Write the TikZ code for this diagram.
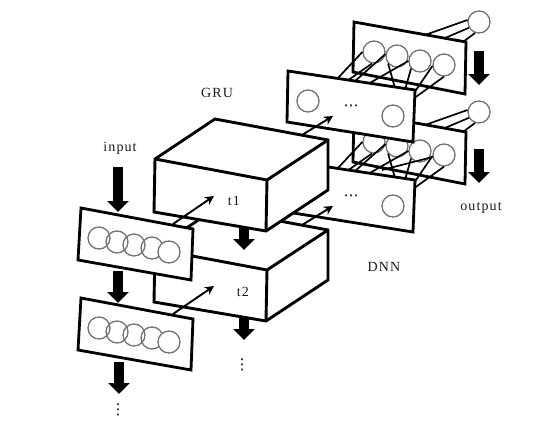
\documentclass[tikz,border=0pt]{standalone}
\usepackage{amsmath}
\usepackage{fontspec}
\setmainfont[LetterSpace=8]{Liberation Serif}
\newfontfamily\symfont{DejaVu Sans}
\usetikzlibrary{arrows.meta}
\tikzset{
    panel/.style={draw, fill=white, line width=2.8pt, line join=miter},
    cubeedge/.style={draw, line width=2.9pt, line join=miter},
    unit/.style={circle, draw=black!55, line width=1.3pt, inner sep=0pt, minimum size=22pt},
    wire/.style={black, line width=1.7pt},
    blockarrow/.style={line width=10pt, -{Triangle[length=11pt,width=21pt]}},
    thinarrow/.style={line width=1.9pt, -{Stealth[length=9pt,width=9pt]}},
    label/.style={font=\fontsize{14}{16}\selectfont, text=black!90},
    dotmark/.style={font=\symfont\fontsize{15}{15}\selectfont, inner sep=0pt}
}
\begin{document}
\begin{tikzpicture}[x=1pt,y=-1pt]
    \useasboundingbox (0,0) rectangle (555,431);

    % DNN layers, lower one first
    \foreach \dy/\n in {90/2,0/1} {
        \begin{scope}[shift={(0,\dy)}]
            \node[unit, fill=white] (out\n) at (479,22) {};
            \coordinate (oa\n) at (425,35);
            \coordinate (ob\n) at (445,38);
            \coordinate (oc\n) at (463,42);
            \draw[wire] (out\n.170) -- (oa\n);
            \draw[wire] (out\n.210) -- (ob\n);
            \draw[wire] (out\n.250) -- (oc\n);

            % back panel
            \path[panel] (354,22) -- (466,42) -- (465,94) -- (353,72) -- cycle;
            \node[unit] (ca\n) at (374,52) {};
            \node[unit] (cb\n) at (397,56) {};
            \node[unit] (cc\n) at (420,61) {};
            \node[unit] (cd\n) at (444,65) {};

            \coordinate (fa\n) at (337,79);
            \coordinate (fb\n) at (347,81);
            \coordinate (fc\n) at (354,82);
            \coordinate (fd\n) at (368,84);
            \coordinate (fe\n) at (395,88);
            \coordinate (ff\n) at (405,90);
            \coordinate (fg\n) at (414,93);
            \coordinate (fh\n) at (413,99);
            \draw[wire] (ca\n.180) -- (fa\n);
            \draw[wire] (ca\n.260) -- (fb\n);
            \draw[wire] (cb\n.170) -- (fc\n);
            \draw[wire] (cc\n.180) -- (fd\n);
            \draw[wire] (cb\n.220) -- (fe\n);
            \draw[wire] (cc\n.220) -- (ff\n);
            \draw[wire] (cd\n.185) -- (fg\n);
            \draw[wire] (cd\n.270) -- (fh\n);

            % front panel
            \path[panel] (288,71) -- (415,90) -- (413,142) -- (287,122) -- cycle;
            \node[unit] (da\n) at (308,101) {};
            \node[unit] (db\n) at (393,116) {};
            \node[dotmark] (dots\n) at (351,108) {⋯};
        \end{scope}
    }
    \coordinate (fi) at (382,170);
    \draw[wire] (cd2.190) -- (fi);

    % output arrows
    \coordinate (rta) at (479,51);
    \coordinate (rtb) at (479,85);
    \coordinate (rtc) at (479,149);
    \coordinate (rtd) at (479,183);
    \draw[blockarrow] (rta) -- (rtb);
    \draw[blockarrow] (rtc) -- (rtd);

    % GRU cells
    \foreach \dy/\n in {90/2,0/1} {
        \begin{scope}[shift={(0,\dy)}]
            \coordinate (ga\n) at (244,228);
            \coordinate (gb\n) at (244,250);
            \path[fill=white] (155,159) -- (215,119) -- (328,140) -- (328,190) -- (266,231) -- (154,212) -- cycle;
            \draw[blockarrow] (ga\n) -- (gb\n);
            \path[cubeedge] (155,159) -- (215,119) -- (328,140) -- (328,190) -- (266,231) -- (154,212) -- cycle;
            \path[cubeedge] (155,159) -- (267,180) -- (328,140);
            \path[cubeedge] (267,180) -- (266,231);
        \end{scope}
    }

    % input panels
    \foreach \dy/\n in {0/1,90/2} {
        \begin{scope}[shift={(0,\dy)}]
            \path[panel] (81,208) -- (193,229) -- (191,280) -- (78,260) -- cycle;
            \node[unit] (ia\n) at (99,238) {};
            \node[unit] (ib\n) at (117,242) {};
            \node[unit] (ic\n) at (134,245) {};
            \node[unit] (id\n) at (152,248) {};
            \node[unit, fill=white] (ie\n) at (169,252) {};
            \coordinate (ta\n) at (173,224);
            \coordinate (tb\n) at (214,196);
            \draw[thinarrow] (ta\n) -- (tb\n);
            \coordinate (ua\n) at (302,135);
            \coordinate (ub\n) at (333,116);
            \draw[thinarrow] (ua\n) -- (ub\n);
        \end{scope}
    }

    % input arrows
    \coordinate (ina) at (118,167);
    \coordinate (inb) at (118,212);
    \coordinate (inc) at (118,271);
    \coordinate (ind) at (118,303);
    \coordinate (ine) at (119,362);
    \coordinate (inf) at (119,394);
    \draw[blockarrow] (ina) -- (inb);
    \draw[blockarrow] (inc) -- (ind);
    \draw[blockarrow] (ine) -- (inf);

    % labels
    \node[label] (gru) at (217,93) {GRU};
    \node[label] (input) at (120,148) {input};
    \node[label] (tone) at (234,201) {t1};
    \node[label] (ttwo) at (243,292) {t2};
    \node[label] (dnn) at (384,267) {DNN};
    \node[label] (output) at (481,208) {output};
    \node[dotmark] (vdotsa) at (242,365) {⋮};
    \node[dotmark] (vdotsb) at (118,410) {⋮};
\end{tikzpicture}
\end{document}
